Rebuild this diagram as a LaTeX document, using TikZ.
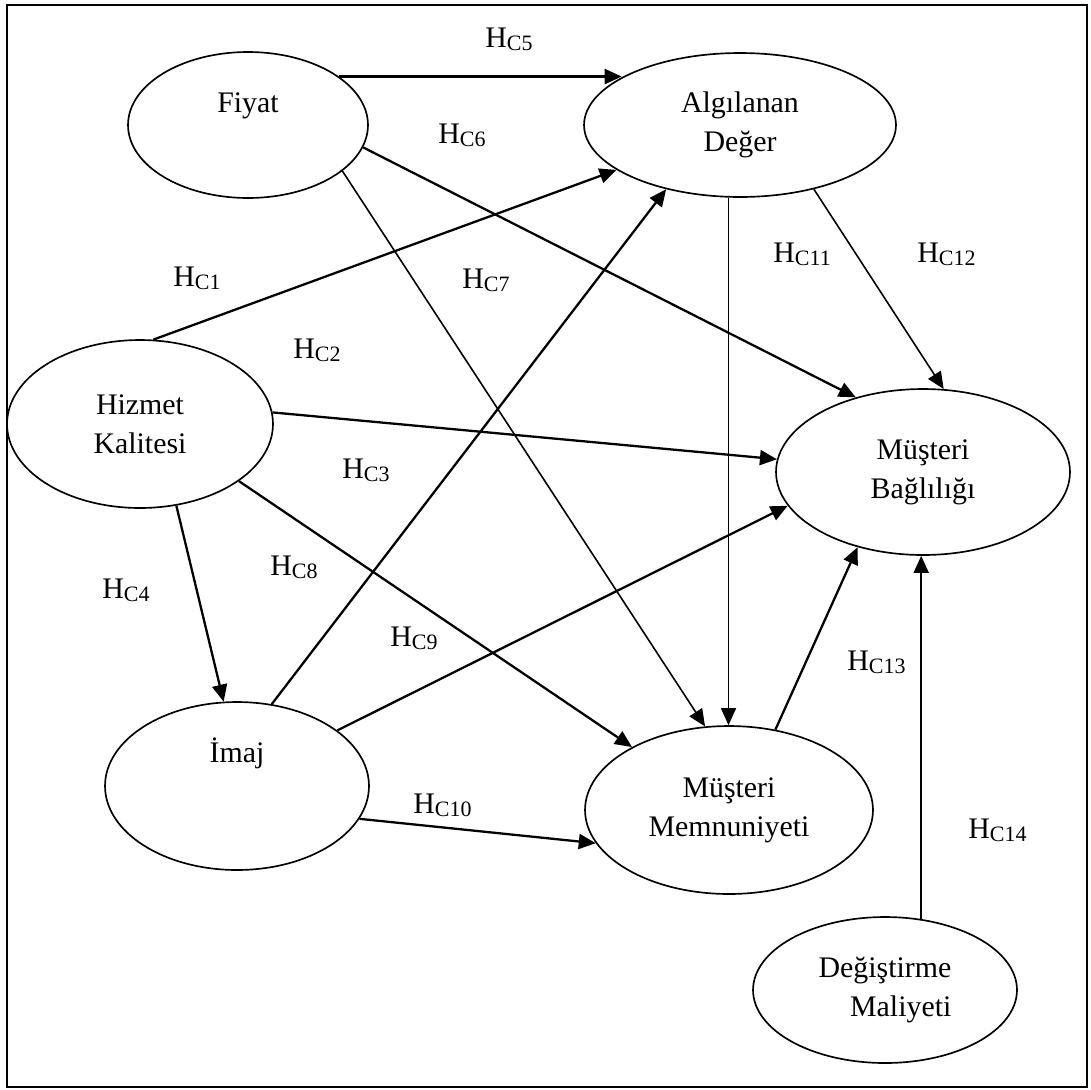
\documentclass[tikz,border=0pt]{standalone}
\usepackage{fontspec}
\setmainfont{Liberation Serif}
\usetikzlibrary{arrows.meta,shapes.geometric}
\newcommand{\hlab}[1]{H\raisebox{-0.06cm}{\fontsize{12.5}{12.5}\selectfont C#1}}
\tikzset{
    factor/.style = {ellipse,
                    fill=white,
                    draw=black,
                    text=black,
                    line width=0.95pt,
                    inner sep=0pt,
                    align=center,
                    font=\fontsize{17}{22.2}\selectfont},
    hyp/.style =    {inner sep=0pt,
                    anchor=base west,
                    text=black,
                    font=\fontsize{17}{22.2}\selectfont},
    link/.style =   {line width=1.3pt},
    weak/.style =   {line width=0.9pt},
    frame/.style =  {line width=1.2pt,
                    draw=black},
    every edge/.style = {draw=black},
    >={Triangle[length=0.34cm,width=0.3cm]}}

\begin{document}
\begin{tikzpicture}[x=0.02cm,y=-0.02cm]
                \useasboundingbox (0,0) rectangle (1091,1089);
                \draw[frame] (7,5) rectangle (1087,1087);

                \node[factor]   (fiyat)     [minimum width=4.8cm,minimum height=2.92cm,text depth=0.9cm]    at (248,125)    {Fiyat};
                \node[factor]   (deger)     [minimum width=6.24cm,minimum height=2.88cm]                    at (740,125)    {Algılanan\\Değer};
                \node[factor]   (hizmet)    [minimum width=5.32cm,minimum height=3.36cm]                    at (140,424)    {Hizmet\\Kalitesi};
                \node[factor]   (baglilik)  [minimum width=5.88cm,minimum height=3.32cm]                    at (923,472)    {Müşteri\\Bağlılığı};
                \node[factor]   (imaj)      [minimum width=5.28cm,minimum height=3.36cm,text depth=1.42cm]  at (237,786)    {İmaj};
                \node[factor]   (memnun)    [minimum width=5.76cm,minimum height=3.36cm]                    at (729,810)    {Müşteri\\Memnuniyeti};
                \node[factor]   (maliyet)   [minimum width=5.28cm,minimum height=2.92cm,align=right]        at (885,990)    {Değiştirme\\Maliyeti};

                \node[hyp]      (h1)    at (173,286)    {\hlab{1}};
                \node[hyp]      (h2)    at (293,358)    {\hlab{2}};
                \node[hyp]      (h3)    at (342,478)    {\hlab{3}};
                \node[hyp]      (h4)    at (102,598)    {\hlab{4}};
                \node[hyp]      (h5)    at (485,47)     {\hlab{5}};
                \node[hyp]      (h6)    at (438,143)    {\hlab{6}};
                \node[hyp]      (h7)    at (462,288)    {\hlab{7}};
                \node[hyp]      (h8)    at (270,575)    {\hlab{8}};
                \node[hyp]      (h9)    at (390,646)    {\hlab{9}};
                \node[hyp]      (h10)   at (413,813)    {\hlab{10}};
                \node[hyp]      (h11)   at (773,262)    {\hlab{11}};
                \node[hyp]      (h12)   at (917,262)    {\hlab{12}};
                \node[hyp]      (h13)   at (847,670)    {\hlab{13}};
                \node[hyp]      (h14)   at (968,838)    {\hlab{14}};

                \path [link,->] (fiyat.28)      edge []     (fiyat.28 -| deger.158)
                                (fiyat.349)     edge []     (baglilik.132)
                                (hizmet.81)     edge []     (deger.200)
                                (hizmet.5)      edge []     (baglilik.175)
                                (hizmet.330)    edge []     (memnun.147)
                                (hizmet.294)    edge []     (imaj.99)
                                (imaj.67)       edge []     (deger.221)
                                (imaj.29)       edge []     (baglilik.194)
                                (imaj.345)      edge []     (memnun.194)
                                (memnun.60)     edge []     (baglilik.229);
                \path [weak,->] (fiyat.334)     edge []     (memnun.106)
                                (deger.261)     edge []     (deger.261 |- memnun.north)
                                (deger.319)     edge []     (baglilik.76)
                                (maliyet.63)    edge []     (maliyet.63 |- baglilik.south);
\end{tikzpicture}
\end{document}
